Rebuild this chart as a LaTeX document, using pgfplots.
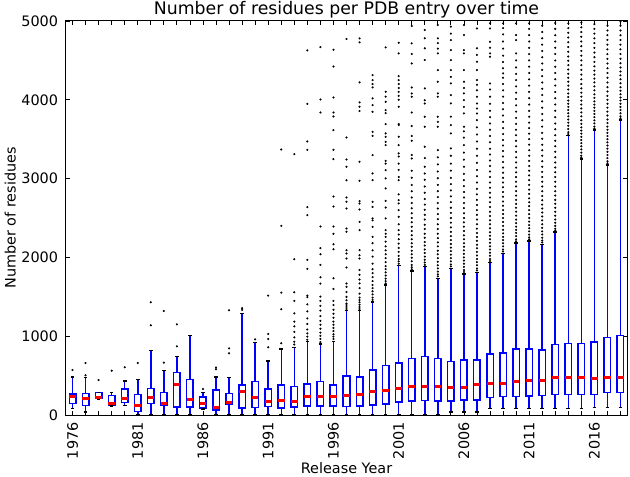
\documentclass[border=0pt]{standalone}
\usepackage{pgfplots}
\usepackage{pgfplotstable}
\pgfplotsset{compat=1.18}
\usepackage{fontspec}
\setmainfont{DejaVu Sans}

% box statistics per release year (x = year - 1976)
\pgfplotstableread{
x  lw  q1  med q3   uw
0  85  145 230 266  482
1  40  123 207 270  474
2  195 207 225 283  287
3  115 123 148 250  288
4  120 156 215 330  431
5  10  47  118 262  453
6  10  143 228 338  821
7  10  127 148 283  562
8  10  101 393 537  740
9  10  101 194 453  1007
10 75  90  150 230  283
11 10  63  92  317  482
12 10  135 161 270  474
13 10  88  292 381  1285
14 10  97  219 423  918
15 10  105 165 330  685
16 10  90  182 383  838
17 10  103 171 359  860
18 10  114 241 393  931
19 10  114 241 427  900
20 10  114 230 383  931
21 10  105 250 495  1324
22 10  114 262 480  1324
23 10  125 294 573  1435
24 10  139 317 628  1651
25 10  165 340 660  1896
26 10  175 359 717  1828
27 10  185 362 740  1883
28 10  175 359 720  1735
29 40  177 347 677  1862
30 40  190 347 698  1790
31 40  190 381 698  1812
32 85  224 406 774  1934
33 85  232 406 787  2053
34 85  232 431 838  2184
35 85  241 440 838  2209
36 85  250 440 825  2167
37 85  262 474 897  2320
38 85  262 482 910  3547
39 85  262 482 910  3247
40 95  262 461 927  3619
41 95  283 474 986  3175
42 95  283 482 1007 3746
}\stats

% outliers of one year
\pgfplotsset{fl/.style={only marks, mark=*, mark size=0.85bp,
    mark options={fill=black, draw=none}}}
\newcommand{\fl}[2]{\addplot[fl] table[x expr=#1, y index=0, header=false, row sep=\\] {#2};}

\begin{document}
\begin{tikzpicture}
\begin{axis}[
  scale only axis, width=561bp, height=394bp,
  xmin=-0.5, xmax=42.5, ymin=0, ymax=5000,
  xtick={0,...,42},
  xticklabels={1976,,,,,1981,,,,,1986,,,,,1991,,,,,1996,,,,,2001,,,,,2006,,,,,2011,,,,,2016,,},
  ytick={0,1000,...,5000},
  scaled y ticks=false,
  tick align=inside,
  major tick length=4.4bp,
  tick style={black, line width=0.8bp},
  axis line style={line width=1bp},
  tick label style={font=\fontsize{14.4bp}{17bp}\selectfont,
    /pgf/number format/assume math mode=true},
  yticklabel style={/pgf/number format/1000 sep={}, inner sep=0pt, xshift=-7.8bp},
  xticklabel style={yshift=-7.3bp, rotate=90, anchor=east, inner sep=0pt},
  title={Number of residues per PDB entry over time},
  xlabel={Release Year},
  ylabel={Number of residues},
  every axis title/.style={at={(axis description cs:0.5,1)}, anchor=south,
    yshift=3bp, inner sep=0pt, font=\fontsize{17.3bp}{20bp}\selectfont},
  every axis x label/.style={at={(axis description cs:0.5,0)}, anchor=north,
    yshift=-47.6bp, inner sep=0pt, font=\fontsize{14.4bp}{17bp}\selectfont},
  every axis y label/.style={at={(axis description cs:-0.0891,0.5)}, rotate=90,
    anchor=south, inner sep=0pt, font=\fontsize{14.4bp}{17bp}\selectfont},
]
% boxes: a wide blue band with a narrower white band inside leaves the outline
\addplot[draw=blue, line width=8.02bp, shorten <=-0.75bp, shorten >=-0.75bp,
  quiver={u=0, v=\thisrow{q3}-\thisrow{q1}}] table[x=x, y=q1] {\stats};
\addplot[draw=white, line width=5.02bp, shorten <=0.75bp, shorten >=0.75bp,
  quiver={u=0, v=\thisrow{q3}-\thisrow{q1}}] table[x=x, y=q1] {\stats};
% whiskers
\addplot[draw=blue, line width=1.5bp, quiver={u=0, v=\thisrow{uw}-\thisrow{q3}}]
  table[x=x, y=q3] {\stats};
\addplot[draw=blue, line width=1.5bp, quiver={u=0, v=\thisrow{lw}-\thisrow{q1}}]
  table[x=x, y=q1] {\stats};
% caps
\addplot[draw=black, line width=1.4bp, quiver={u=0.28, v=0}]
  table[x expr=\thisrow{x}-0.14, y=uw] {\stats};
\addplot[draw=black, line width=1.4bp, quiver={u=0.28, v=0}]
  table[x expr=\thisrow{x}-0.14, y=lw] {\stats};
% medians
\addplot[draw=red, line width=3bp, quiver={u=0.5, v=0}]
  table[x expr=\thisrow{x}-0.25, y=med] {\stats};

\fl{0}{571\\}
\fl{1}{504\\660\\}
\fl{2}{444\\}
\fl{3}{562\\}
\fl{4}{605\\}
\fl{5}{660\\}
\fl{6}{1138\\1431\\}
\fl{7}{664\\1320\\}
\fl{8}{872\\1151\\}
\fl{10}{330\\}
\fl{11}{580\\603\\}
\fl{12}{783\\846\\1329\\}
\fl{13}{1335\\1355\\}
\fl{14}{960\\}
\fl{15}{859\\965\\1028\\1515\\}
\fl{16}{910\\1341\\1553\\2400\\3369\\}
\fl{17}{895\\930\\985\\1055\\1125\\1185\\1290\\1448\\1558\\1977\\3310\\}
\fl{18}{955\\995\\1035\\1085\\1155\\1225\\1315\\1405\\1495\\1515\\1854\\1968\\2536\\2637\\3365\\3471\\3949\\4627\\}
\fl{19}{925\\965\\1005\\1045\\1095\\1145\\1195\\1255\\1325\\1385\\1448\\1503\\1668\\1748\\1905\\2040\\2117\\2392\\3839\\4004\\4669\\}
\fl{20}{965\\995\\1025\\1065\\1105\\1145\\1185\\1235\\1285\\1335\\1395\\1448\\1600\\1736\\2104\\2167\\2299\\2392\\2646\\2773\\3247\\3365\\3615\\3789\\3839\\4030\\4423\\4635\\}
\fl{21}{1345\\1370\\1395\\1414\\1457\\1499\\1562\\1626\\1668\\1871\\1986\\2049\\2092\\2325\\2367\\2621\\2705\\2760\\2980\\3150\\3243\\3522\\4771\\}
\fl{22}{1345\\1370\\1400\\1430\\1460\\1490\\1540\\1610\\1670\\1720\\1780\\1840\\1986\\2028\\2092\\2346\\2451\\2608\\2684\\2714\\2972\\3213\\3857\\3912\\3967\\4221\\4729\\4779\\}
\fl{23}{1460\\1490\\1530\\1570\\1610\\1650\\1700\\1750\\1800\\1850\\1920\\2010\\2090\\2180\\2261\\2388\\2470\\2494\\2640\\2705\\2980\\3065\\3298\\3543\\3594\\3848\\3933\\4018\\4157\\4200\\4250\\4314\\}
\fl{24}{1670\\1700\\1730\\1770\\1810\\1850\\1890\\1940\\1990\\2040\\2090\\2140\\2200\\2260\\2300\\2346\\2494\\2633\\2718\\2875\\3002\\3107\\3190\\3226\\3425\\3467\\3530\\3573\\3692\\3830\\3869\\3975\\4040\\4102\\4665\\}
\fl{25}{1920\\1950\\1980\\2020\\2070\\2120\\2175\\2230\\2290\\2346\\2420\\2515\\2600\\2685\\2727\\2800\\2980\\3020\\3110\\3190\\3280\\3320\\3425\\3531\\3680\\3692\\3912\\4000\\4050\\4100\\4150\\4200\\4250\\4301\\4589\\4724\\}
\fl{26}{1850\\1875\\1905\\1950\\1995\\2040\\2085\\2135\\2180\\2230\\2280\\2335\\2390\\2445\\2500\\2560\\2625\\2690\\2760\\2840\\2920\\3010\\3100\\3256\\3300\\3480\\3540\\3666\\3840\\4039\\4080\\4157\\4462\\4581\\4716\\4936\\}
\fl{27}{1905\\1935\\1970\\2010\\2055\\2100\\2150\\2195\\2250\\2300\\2360\\2415\\2480\\2540\\2605\\2670\\2740\\2820\\2900\\2985\\3065\\3150\\3260\\3404\\3658\\3785\\3953\\3995\\4145\\4504\\4653\\4780\\4885\\}
\fl{28}{1760\\1785\\1820\\1860\\1900\\1945\\1990\\2040\\2085\\2140\\2190\\2245\\2300\\2360\\2420\\2485\\2550\\2620\\2690\\2765\\2840\\2920\\3005\\3090\\3180\\3270\\3361\\3658\\3720\\3785\\4039\\4081\\4229\\4377\\4589\\4650\\4720\\4780\\4949\\}
\fl{29}{1885\\1910\\1950\\1990\\2035\\2080\\2125\\2170\\2220\\2270\\2325\\2380\\2440\\2500\\2565\\2630\\2700\\2775\\2850\\2930\\3010\\3100\\3190\\3290\\3383\\3573\\3680\\3785\\3954\\4060\\4208\\4290\\4377\\4504\\4631\\4758\\4840\\4928\\}
\fl{30}{1815\\1840\\1880\\1920\\1960\\2000\\2045\\2090\\2135\\2180\\2230\\2280\\2335\\2390\\2445\\2500\\2560\\2625\\2690\\2760\\2830\\2905\\2980\\3060\\3150\\3240\\3330\\3425\\3520\\3600\\3658\\3827\\3910\\3996\\4081\\4150\\4229\\4377\\4589\\4631\\4822\\4949\\}
\fl{31}{1835\\1860\\1900\\1940\\1980\\2025\\2070\\2115\\2160\\2210\\2260\\2310\\2365\\2420\\2480\\2540\\2600\\2665\\2730\\2800\\2870\\2950\\3030\\3110\\3200\\3290\\3380\\3470\\3560\\3650\\3742\\3827\\3890\\3954\\4039\\4120\\4190\\4250\\4377\\4483\\4570\\4653\\4906\\}
\fl{32}{1955\\1980\\2020\\2060\\2100\\2140\\2185\\2230\\2275\\2320\\2370\\2420\\2470\\2525\\2580\\2640\\2700\\2760\\2820\\2885\\2950\\3020\\3090\\3160\\3230\\3305\\3380\\3460\\3540\\3620\\3700\\3780\\3860\\3950\\4040\\4130\\4208\\4547\\4589\\4660\\4737\\4906\\4970\\}
\fl{33}{2075\\2100\\2140\\2180\\2220\\2260\\2305\\2350\\2400\\2450\\2500\\2550\\2600\\2655\\2710\\2770\\2830\\2890\\2950\\3010\\3075\\3140\\3210\\3280\\3350\\3420\\3490\\3565\\3640\\3720\\3800\\3880\\3960\\4040\\4120\\4200\\4280\\4335\\4400\\4480\\4560\\4650\\4740\\4830\\4910\\4970\\}
\fl{34}{2205\\2230\\2270\\2310\\2350\\2390\\2435\\2480\\2530\\2580\\2630\\2680\\2730\\2785\\2840\\2900\\2960\\3020\\3080\\3140\\3205\\3270\\3340\\3410\\3480\\3550\\3620\\3695\\3770\\3850\\3930\\4010\\4090\\4170\\4250\\4330\\4410\\4500\\4589\\4758\\4822\\4970\\}
\fl{35}{2230\\2255\\2290\\2330\\2370\\2410\\2455\\2500\\2550\\2600\\2650\\2700\\2750\\2805\\2860\\2920\\2980\\3040\\3100\\3160\\3225\\3290\\3360\\3430\\3500\\3570\\3640\\3710\\3785\\3860\\3940\\4020\\4100\\4180\\4260\\4340\\4420\\4500\\4580\\4660\\4740\\4820\\4900\\4970\\}
\fl{36}{2190\\2215\\2250\\2290\\2330\\2375\\2420\\2470\\2520\\2570\\2620\\2670\\2725\\2780\\2840\\2900\\2960\\3020\\3085\\3150\\3220\\3290\\3360\\3430\\3505\\3580\\3660\\3740\\3820\\3900\\3980\\4060\\4140\\4220\\4300\\4380\\4460\\4540\\4620\\4700\\4780\\4860\\4940\\}
\fl{37}{2340\\2365\\2400\\2440\\2480\\2530\\2580\\2630\\2680\\2730\\2785\\2840\\2900\\2960\\3020\\3080\\3140\\3205\\3270\\3340\\3410\\3480\\3550\\3625\\3700\\3780\\3860\\3940\\4020\\4100\\4180\\4260\\4340\\4420\\4500\\4580\\4660\\4740\\4820\\4900\\4975\\}
\fl{38}{3565\\3590\\3630\\3670\\3710\\3750\\3790\\3830\\3870\\3910\\3950\\3990\\4035\\4080\\4130\\4180\\4230\\4280\\4330\\4385\\4440\\4495\\4550\\4610\\4670\\4730\\4790\\4850\\4910\\4970\\}
\fl{39}{3265\\3290\\3330\\3370\\3410\\3450\\3490\\3530\\3570\\3610\\3650\\3695\\3740\\3790\\3840\\3890\\3940\\3990\\4040\\4090\\4145\\4200\\4260\\4320\\4380\\4440\\4500\\4560\\4620\\4680\\4740\\4800\\4860\\4920\\4980\\}
\fl{40}{3635\\3660\\3700\\3740\\3780\\3820\\3860\\3900\\3940\\3980\\4025\\4070\\4120\\4170\\4220\\4270\\4320\\4370\\4425\\4480\\4540\\4600\\4660\\4720\\4780\\4840\\4900\\4960\\}
\fl{41}{3195\\3220\\3260\\3300\\3340\\3380\\3420\\3460\\3500\\3540\\3580\\3620\\3660\\3705\\3750\\3800\\3850\\3900\\3950\\4000\\4050\\4105\\4160\\4220\\4280\\4340\\4400\\4460\\4520\\4580\\4640\\4700\\4760\\4820\\4880\\4940\\}
\fl{42}{3765\\3790\\3830\\3870\\3910\\3950\\3990\\4030\\4070\\4115\\4160\\4210\\4260\\4310\\4360\\4410\\4465\\4520\\4580\\4640\\4700\\4760\\4820\\4880\\4940\\4990\\}
\end{axis}
\pgfresetboundingbox
\path ([shift={(-66bp,-62bp)}]current axis.south west) rectangle ([shift={(3bp,21bp)}]current axis.north east);
\end{tikzpicture}
\end{document}
